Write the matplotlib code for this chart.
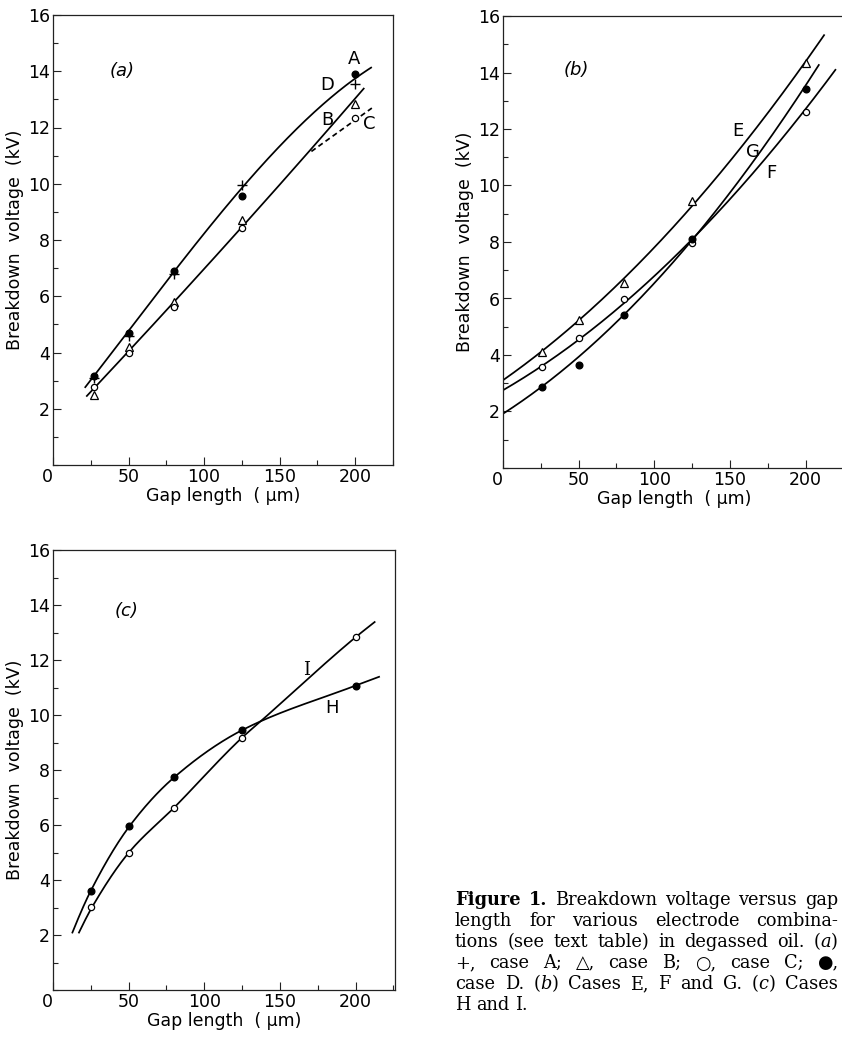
import numpy as np
import matplotlib
matplotlib.use("Agg")
import matplotlib.pyplot as plt
from matplotlib.ticker import MultipleLocator, FixedLocator

W, H, DPI = 842, 1056, 100

# ---------------- data ----------------
# panel (a)
gap_a = [27, 50, 80, 125, 200]
case_A = [3.10, 4.58, 6.78, 9.95, 13.55]   # +
case_B = [2.49, 4.21, 5.81, 8.72, 12.85]   # open triangle
case_C = [2.79, 3.98, 5.62, 8.43, 12.34]   # open circle
case_D = [3.15, 4.70, 6.90, 9.55, 13.90]   # filled circle
# hand-drawn curves of panel (a)
curve_AD_x = [21, 48, 79, 125, 159, 181, 198, 211]
curve_AD_y = [2.73, 4.63, 6.87, 9.76, 11.80, 12.99, 13.76, 14.06]
curve_BC_x = [22, 51, 81, 125, 173]
curve_BC_y = [2.43, 4.15, 5.73, 8.60, 11.27]
curve_B_x = [173, 206]
curve_B_y = [11.27, 13.44]
curve_C_x = [171, 211]
curve_C_y = [11.15, 12.69]

# panel (b)
gap_b = [26, 50, 80, 125, 200]
case_E = [4.12, 5.25, 6.55, 9.44, 14.35]   # open triangle
case_F = [3.59, 4.60, 5.98, 7.97, 12.60]   # open circle
case_G = [2.86, 3.65, 5.43, 8.11, 13.40]   # filled circle
curve_E_x = [0, 26, 50, 80, 125, 200, 212.5]
curve_E_y = [3.15, 4.12, 5.25, 6.55, 9.44, 14.35, 15.35]
curve_F_x = [0, 26, 50, 80, 125, 200, 220]
curve_F_y = [2.71, 3.59, 4.60, 5.98, 7.97, 12.60, 14.23]
curve_G_x = [0, 26, 80, 125, 200, 209]
curve_G_y = [1.94, 2.86, 5.43, 8.11, 13.40, 14.41]

# panel (c)
gap_c = [25, 50, 80, 125, 200]
case_H = [3.61, 5.96, 7.73, 9.45, 11.07]   # filled circle
case_I = [3.03, 4.99, 6.63, 9.18, 12.83]   # open circle
curve_H_x = [12.6, 25, 50.6, 80, 125, 200, 216]
curve_H_y = [2.06, 3.61, 5.96, 7.73, 9.45, 11.07, 11.40]
curve_I_x = [16.9, 26, 50, 80, 125, 137, 200, 213]
curve_I_y = [2.06, 3.03, 4.99, 6.63, 9.18, 9.76, 12.83, 13.40]

y_ticks = [2, 4, 6, 8, 10, 12, 14, 16]
x_ticks = [0, 50, 100, 150, 200]

caption_lines = [
    [[("Figure", "b")], [("1.", "b")], [("Breakdown", "r")], [("voltage", "r")],
     [("versus", "r")], [("gap", "r")]],
    [[(w, "r")] for w in "length for various electrode combina-".split()],
    [[(w, "r")] for w in "tions (see text table) in degassed oil.".split()]
    + [[("(", "r"), ("a", "i"), (")", "r")]],
    [[(w, "r")] for w in "+, case A; \u25b3, case B; \u25cb, case C; \u25cf,".split()],
    [[(w, "r")] for w in "case D.".split()] + [[("(", "r"), ("b", "i"), (")", "r")]]
    + [[(w, "r")] for w in "Cases E, F and G.".split()]
    + [[("(", "r"), ("c", "i"), (")", "r")]] + [[("Cases", "r")]],
    [[(w, "r")] for w in "H and I.".split()],
]

# ---------------- helpers ----------------
def pchip(x, y, xs):
    x = np.asarray(x, float); y = np.asarray(y, float)
    n = len(x)
    h = np.diff(x); d = np.diff(y) / h
    if n == 2:
        return y[0] + d[0] * (xs - x[0])
    m = np.zeros(n)
    for k in range(1, n - 1):
        if d[k - 1] * d[k] > 0:
            w1 = 2 * h[k] + h[k - 1]; w2 = h[k] + 2 * h[k - 1]
            m[k] = (w1 + w2) / (w1 / d[k - 1] + w2 / d[k])
    m[0] = ((2 * h[0] + h[1]) * d[0] - h[0] * d[1]) / (h[0] + h[1])
    if np.sign(m[0]) != np.sign(d[0]):
        m[0] = 0
    m[-1] = ((2 * h[-1] + h[-2]) * d[-1] - h[-1] * d[-2]) / (h[-1] + h[-2])
    if np.sign(m[-1]) != np.sign(d[-1]):
        m[-1] = 0
    idx = np.clip(np.searchsorted(x, xs) - 1, 0, n - 2)
    t = (xs - x[idx]) / h[idx]
    h00 = 2 * t**3 - 3 * t**2 + 1
    h10 = t**3 - 2 * t**2 + t
    h01 = -2 * t**3 + 3 * t**2
    h11 = t**3 - t**2
    return (h00 * y[idx] + h10 * h[idx] * m[idx] + h01 * y[idx + 1]
            + h11 * h[idx] * m[idx + 1])


def smooth(ax, xk, yk, kind="pchip", deg=2, **kw):
    xs = np.linspace(xk[0], xk[-1], 300)
    if kind == "poly":
        ys = np.polyval(np.polyfit(xk, yk, deg), xs)
    else:
        ys = pchip(xk, yk, xs)
    ax.plot(xs, ys, color="black", lw=1.25, solid_capstyle="butt", **kw)


def add_axes(px_l, px_r, px_t, px_b):
    return fig.add_axes([px_l / W, 1 - px_b / H, (px_r - px_l) / W, (px_b - px_t) / H])


LAB_FS = 12.5
TICK_FS = 12.5


def style_axes(ax, xmax):
    ax.set_xlim(0, xmax)
    ax.set_ylim(0, 16)
    ax.xaxis.set_major_locator(FixedLocator(x_ticks))
    ax.xaxis.set_minor_locator(MultipleLocator(25))
    ax.yaxis.set_major_locator(FixedLocator(y_ticks))
    ax.yaxis.set_minor_locator(MultipleLocator(1))
    ax.set_xticklabels([str(v) for v in x_ticks])
    ax.set_yticklabels([str(v) for v in y_ticks])
    ax.tick_params(which="both", direction="in", width=0.8, colors="#222222",
                   labelsize=TICK_FS, labelcolor="black", pad=2)
    ax.tick_params(which="major", length=6)
    ax.tick_params(which="minor", length=3.5)
    ax.get_xticklabels()[0].set_ha("right")
    for s in ax.spines.values():
        s.set_linewidth(0.9)
        s.set_color("#222222")
    ax.set_xlabel("Gap length  ( \u03bcm)", fontsize=LAB_FS, labelpad=1)
    ax.set_ylabel("Breakdown  voltage  (kV)", fontsize=LAB_FS, labelpad=3)


plt.rcParams["font.family"] = ["DejaVu Sans"]
fig = plt.figure(figsize=(W / DPI, H / DPI), dpi=DPI)
fig.patch.set_facecolor("white")

mk = dict(linestyle="none", color="black", zorder=5)

# ---------------- panel (a) ----------------
ax = add_axes(53, 393, 15, 465)
style_axes(ax, 225)
smooth(ax, curve_AD_x, curve_AD_y, kind="poly", deg=3)
smooth(ax, curve_BC_x + curve_B_x[1:], curve_BC_y + curve_B_y[1:], kind="poly", deg=3)
smooth(ax, curve_C_x, curve_C_y, linestyle=(0, (3, 2)))
ax.plot(gap_a, case_D, marker="o", ms=4.8, **mk)
ax.plot(gap_a, case_A, marker="+", ms=7, mew=1.0, **mk)
ax.plot(gap_a, case_B, marker="^", ms=5.5, mfc="white", mew=0.9, **mk)
ax.plot(gap_a, case_C, marker="o", ms=4.5, mfc="white", mew=0.9, **mk)
ax.text(46, 14.0, "(a)", fontsize=13, style="italic", ha="center", va="center")
ax.text(199.3, 14.45, "A", fontsize=13, ha="center", va="center")
ax.text(181.6, 13.5, "D", fontsize=13, ha="center", va="center")
ax.text(181.7, 12.28, "B", fontsize=13, ha="center", va="center")
ax.text(209.5, 12.12, "C", fontsize=13, ha="center", va="center")

# ---------------- panel (b) ----------------
ax = add_axes(503, 845, 16, 468)
style_axes(ax, 226)
smooth(ax, curve_E_x, curve_E_y, kind="poly", deg=2)
smooth(ax, curve_F_x, curve_F_y, kind="poly", deg=2)
smooth(ax, curve_G_x, curve_G_y, kind="poly", deg=2)
ax.plot(gap_b, case_E, marker="^", ms=5.5, mfc="white", mew=0.9, **mk)
ax.plot(gap_b, case_F, marker="o", ms=4.5, mfc="white", mew=0.9, **mk)
ax.plot(gap_b, case_G, marker="o", ms=4.8, **mk)
ax.text(48.6, 14.1, "(b)", fontsize=13, style="italic", ha="center", va="center")
ax.text(155.3, 11.93, "E", fontsize=13, ha="center", va="center")
ax.text(165.2, 11.2, "G", fontsize=13, ha="center", va="center")
ax.text(177.3, 10.45, "F", fontsize=13, ha="center", va="center")

# ---------------- panel (c) ----------------
ax = add_axes(53, 395, 550, 990)
style_axes(ax, 226)
smooth(ax, curve_H_x, curve_H_y)
smooth(ax, curve_I_x, curve_I_y)
ax.plot(gap_c, case_H, marker="o", ms=4.8, **mk)
ax.plot(gap_c, case_I, marker="o", ms=4.5, mfc="white", mew=0.9, **mk)
ax.text(48.9, 13.8, "(c)", fontsize=13, style="italic", ha="center", va="center")
ax.text(167.4, 11.64, "I", fontsize=13, family="DejaVu Serif", ha="center", va="center")
ax.text(184.4, 10.24, "H", fontsize=13, ha="center", va="center")

# ---------------- caption (justified) ----------------
CAP_FAM = ["DejaVu Serif", "DejaVu Sans"]
CAP_L, CAP_R = 455, 838
BASE0, LEAD = 905, 21
renderer = fig.canvas.get_renderer()
cap_fs = [10.0]


def seg_props(style):
    return dict(fontsize=cap_fs[0], family=CAP_FAM,
                weight="bold" if style == "b" else "normal",
                style="italic" if style == "i" else "normal")


def seg_width(txt, style):
    t = fig.text(0, 0, txt, **seg_props(style))
    w = t.get_window_extent(renderer).width
    t.remove()
    return w


def line_natural(words):
    sp = seg_width("a a", "r") - seg_width("aa", "r")
    return sum(sum(seg_width(s, st) for s, st in wd) for wd in words) + sp * (len(words) - 1)


widest = max(line_natural(wds) for wds in caption_lines[:-1])
cap_fs[0] = 10.0 * 0.975 * (CAP_R - CAP_L) / widest

space_w = seg_width("a a", "r") - seg_width("aa", "r")
for li, words in enumerate(caption_lines):
    widths = [sum(seg_width(s, st) for s, st in wd) for wd in words]
    natural = sum(widths)
    last = li == len(caption_lines) - 1
    gap = space_w if last else (CAP_R - CAP_L - natural) / max(len(words) - 1, 1)
    x = CAP_L
    yb = BASE0 + li * LEAD
    for wd in words:
        for s, st in wd:
            fig.text(x / W, 1 - yb / H, s, va="baseline", ha="left", **seg_props(st))
            x += seg_width(s, st)
        x += gap

fig.savefig("out.png", dpi=DPI, facecolor="white")
